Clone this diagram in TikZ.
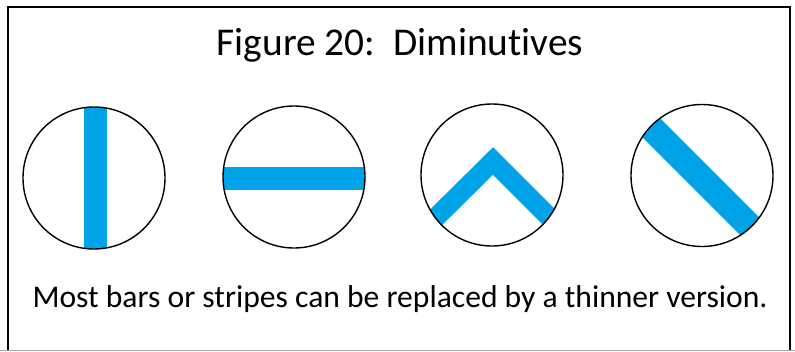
\documentclass[tikz,border=0pt]{standalone}
\usepackage{fontspec}
\setmainfont[Ligatures={NoCommon}]{Carlito}
\usepackage{xcolor}
\usepackage{tikz}
\usetikzlibrary{positioning}

\definecolor{stripeblue}{RGB}{0,162,232}

\begin{document}
\begin{tikzpicture}[
  x=1pt, y=-1pt,
  disc/.style={draw, circle, line width=1.4pt, minimum size=142pt, inner sep=0pt},
  stripe/.style={draw=stripeblue, line width=23pt},
  title/.style={anchor=base, font=\fontsize{39.4}{44}\selectfont},
  caption/.style={anchor=base, font=\fontsize{31.6}{36}\selectfont},
]
\useasboundingbox (0,0) rectangle (795,351);

% frame
\draw[line width=2.2pt] (8,351) -- (8,7) -- (790,7) -- (790,351);
\draw[black!35, line width=1pt] (0,350.5) -- (795,350.5);

\node[title] (head) at (400,55) {Figure 20:\ \ Diminutives};

% the four diminutives
\node[disc, path picture={
  \draw[stripe] ([xshift=1pt]path picture bounding box.north)
             -- ([xshift=1pt]path picture bounding box.south);}]
  (pale) at (94,178) {};
\node[disc, path picture={
  \draw[stripe] ([yshift=-1.5pt]path picture bounding box.west)
             -- ([yshift=-1.5pt]path picture bounding box.east);}]
  (fess) at (294,177) {};
\node[disc, path picture={
  \draw[stripe, line width=19.5pt, miter limit=4]
    ([shift={(-90,76)}]path picture bounding box.center)
    -- ([shift={(1,-14)}]path picture bounding box.center)
    -- ([shift={(91,76)}]path picture bounding box.center);}]
  (chevron) at (492,175) {};
\node[disc, path picture={
  \draw[stripe, line width=26pt]
    ([shift={(-80,-77)}]path picture bounding box.center)
    -- ([shift={(80,83)}]path picture bounding box.center);}]
  (bend) at (702,175.5) {};

\node[caption] (note) at (400,307) {Most bars or stripes can be replaced by a thinner version.};
\end{tikzpicture}
\end{document}
